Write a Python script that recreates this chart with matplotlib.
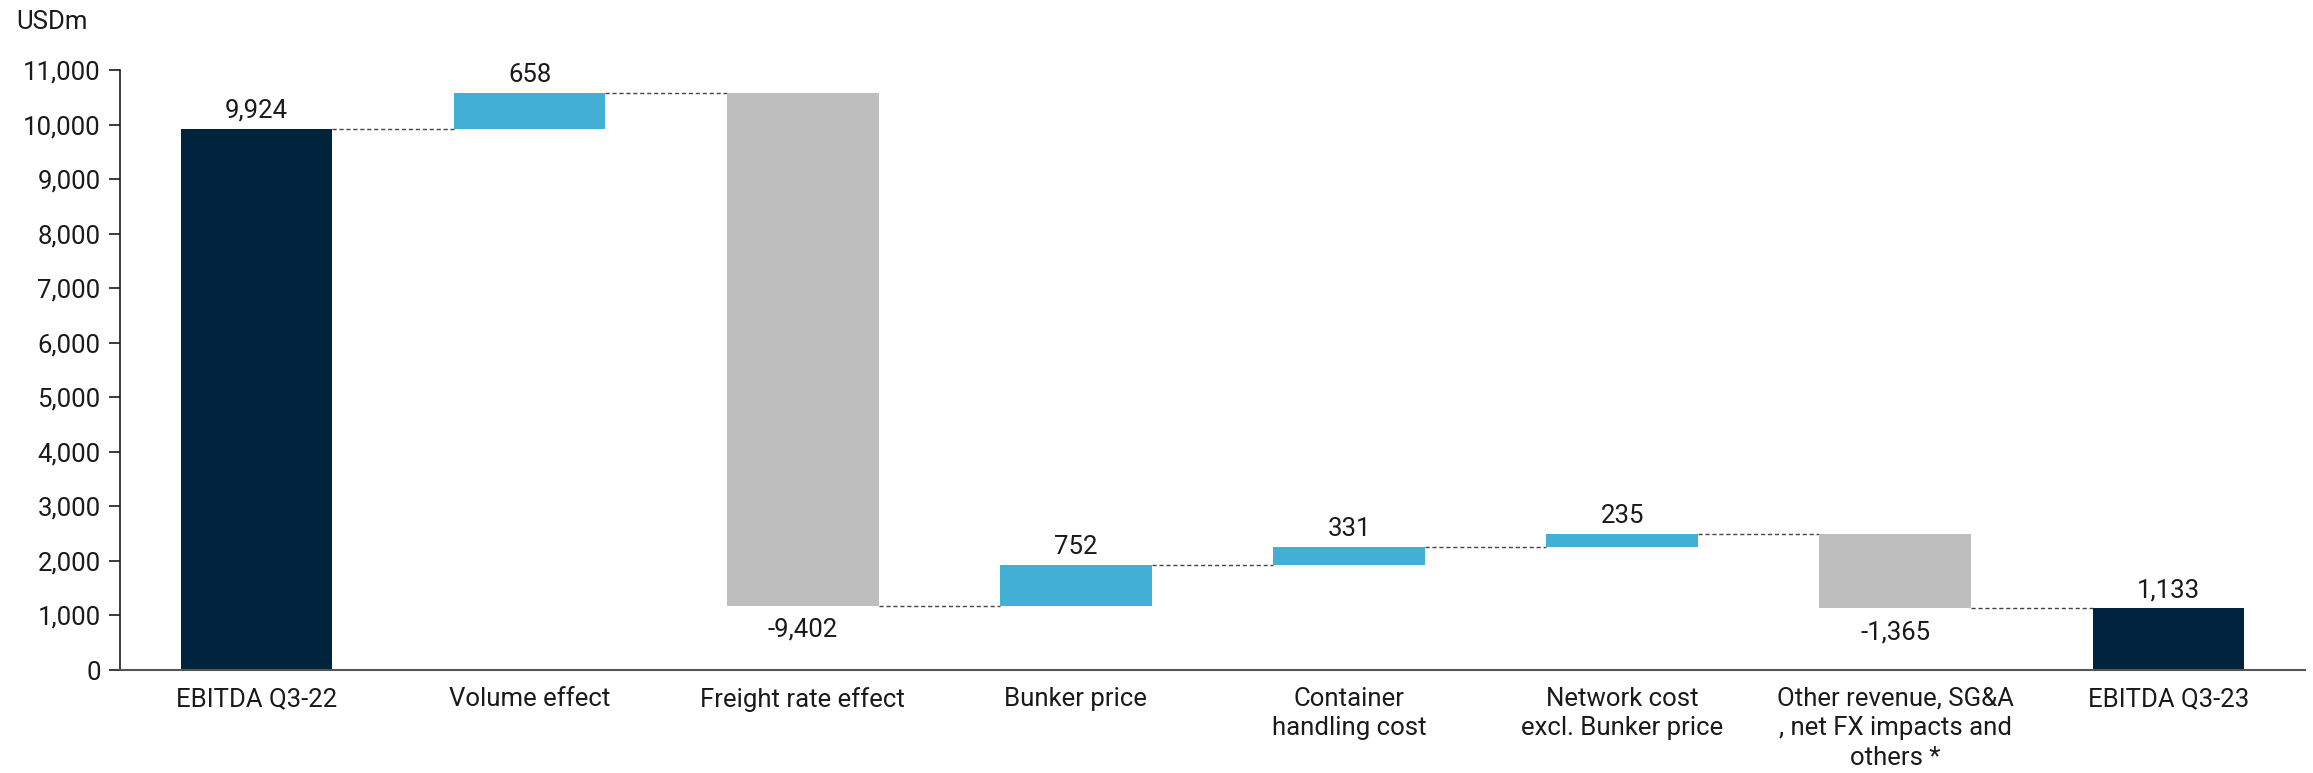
import numpy as np
import matplotlib.pyplot as plt

plt.rcParams['font.family'] = ['Roboto', 'DejaVu Sans']

categories = ["EBITDA Q3-22", "Volume effect", "Freight rate effect", "Bunker price",
              "Container\nhandling cost", "Network cost\nexcl. Bunker price",
              "Other revenue, SG&A\n, net FX impacts and\nothers *", "EBITDA Q3-23"]
values = [9924, 658, -9402, 752, 331, 235, -1365, 1133]
kinds = ["total", "delta", "delta", "delta", "delta", "delta", "delta", "total"]

navy = "#00243D"
blue = "#42B0D5"
grey = "#BEBEBE"
fs = 18.5

# build waterfall bottoms / heights
bottoms = []
heights = []
running = 0
for v, k in zip(values, kinds):
    if k == "total":
        bottoms.append(0)
        heights.append(v)
        running = v
    else:
        bottoms.append(min(running, running + v))
        heights.append(abs(v))
        running += v
colors = [navy if k == "total" else (blue if v > 0 else grey) for v, k in zip(values, kinds)]

fig = plt.figure(figsize=(23.13, 7.73), dpi=100)
ax = fig.add_axes([0.0519, 0.1332, 0.9446, 0.7762])

x = np.arange(len(values))
w = 0.555
ax.bar(x, heights, bottom=bottoms, width=w, color=colors, edgecolor="none", zorder=2)

# connectors
levels = []
running = 0
for v, k in zip(values, kinds):
    running = v if k == "total" else running + v
    levels.append(running)
for i in range(len(values) - 1):
    ax.plot([x[i] + w / 2, x[i + 1] - w / 2], [levels[i], levels[i]],
            ls=(0, (3, 2)), color="#444444", lw=1.0, zorder=1)

# value labels
for i, (v, k) in enumerate(zip(values, kinds)):
    txt = f"{v:,}"
    if v >= 0:
        ax.text(x[i], bottoms[i] + heights[i] + 110, txt, ha="center", va="bottom",
                fontsize=fs, color="#1a1a1a")
    else:
        ax.text(x[i], bottoms[i] - 220, txt, ha="center", va="top",
                fontsize=fs, color="#1a1a1a")

ax.set_xlim(-0.5, 7.5)
ax.set_ylim(0, 11000)
ax.set_yticks(np.arange(0, 11001, 1000))
ax.set_yticklabels([f"{t:,}" for t in range(0, 11001, 1000)])
ax.set_xticks(x)
ax.set_xticklabels(categories, linespacing=1.3)
ax.tick_params(axis="y", labelsize=fs, length=8, width=1.2, colors="#1a1a1a", pad=6)
ax.tick_params(axis="x", labelsize=fs, length=0, pad=12, colors="#1a1a1a")
for s in ["top", "right"]:
    ax.spines[s].set_visible(False)
ax.spines["left"].set_color("#1a1a1a")
ax.spines["left"].set_linewidth(1.2)
ax.spines["bottom"].set_color("#555555")
ax.spines["bottom"].set_linewidth(1.5)

fig.text(0.007, 0.972, "USDm", fontsize=fs, color="#1a1a1a", va="center", ha="left")

fig.savefig("out.png", dpi=100)
